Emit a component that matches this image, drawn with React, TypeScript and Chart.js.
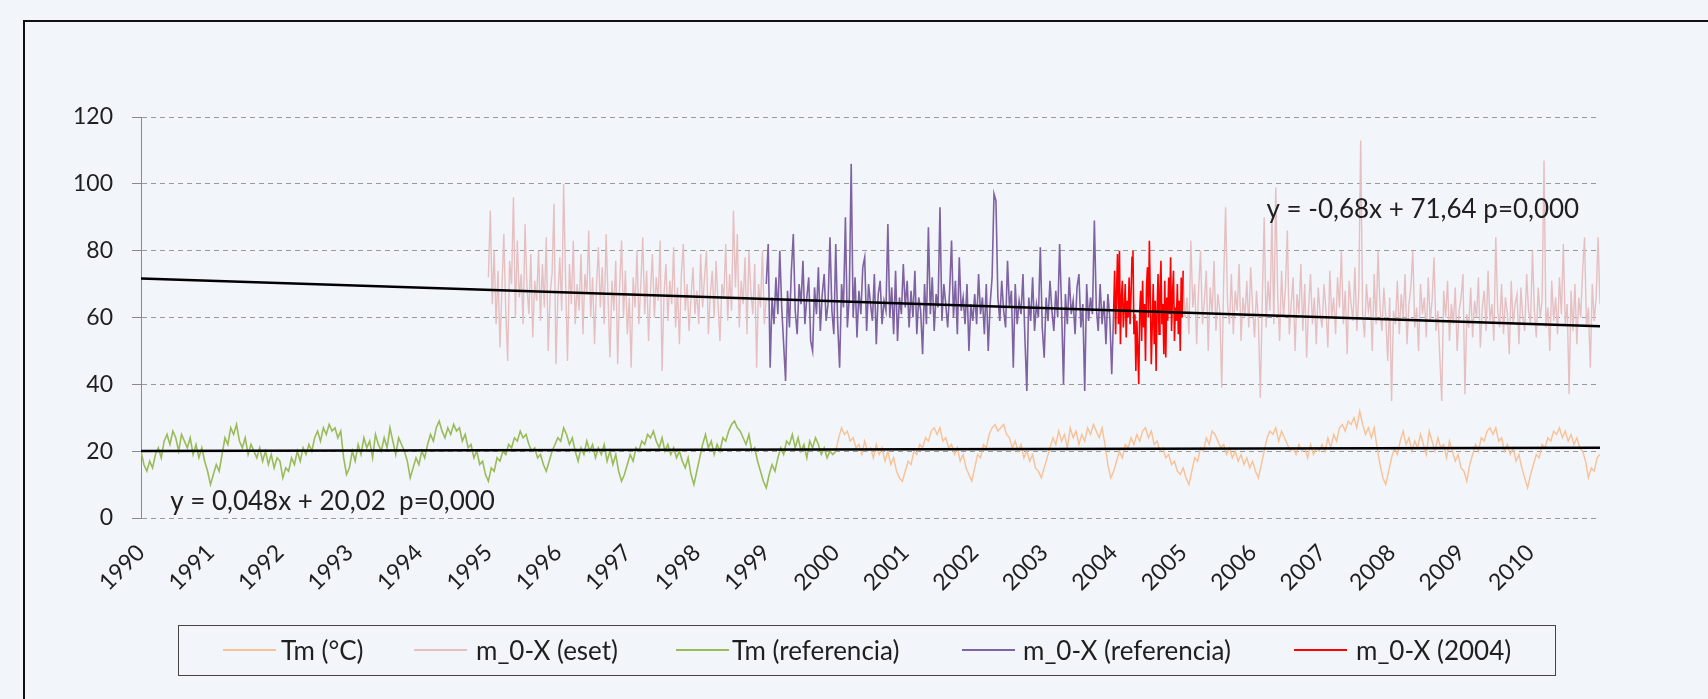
import React, { useEffect, useRef } from "react";
import { Chart, registerables } from "chart.js";

Chart.register(...registerables);

// ---- axis definitions ----
const X_MIN = 1990;
const X_MAX = 2011;
const Y_MIN = 0;
const Y_MAX = 120;
const Y_STEP = 20;
const yearLabels = [1990, 1991, 1992, 1993, 1994, 1995, 1996, 1997, 1998, 1999, 2000, 2001, 2002, 2003, 2004, 2005, 2006, 2007, 2008, 2009, 2010];

// ---- Tm (referencia): 1990.0 – 2000.0, 24 values per year ----
const tmRefStart = 1990;
const tmRefPerYear = 24;
const tmRef = [
  20, 16, 14, 17, 15, 19, 21, 18, 23, 25, 22, 26, 24, 20, 25, 23, 21, 24, 19, 22, 18, 21, 17, 14,
  10, 13, 16, 14, 19, 24, 22, 27, 25, 28, 23, 21, 24, 19, 22, 20, 18, 21, 17, 20, 16, 19, 15, 18,
  17, 12, 15, 14, 18, 16, 20, 17, 21, 19, 22, 20, 24, 26, 23, 27, 25, 28, 26, 27, 24, 26, 18, 13,
  15, 20, 17, 22, 19, 24, 21, 23, 18, 25, 22, 20, 24, 21, 27, 23, 19, 24, 22, 20, 17, 12, 15, 18,
  16, 20, 18, 22, 25, 23, 27, 29, 26, 24, 27, 25, 28, 26, 27, 23, 25, 21, 22, 18, 20, 16, 17, 13,
  11, 15, 14, 18, 17, 20, 19, 22, 21, 24, 23, 26, 24, 25, 22, 20, 21, 18, 19, 16, 14, 17, 20, 22,
  24, 23, 27, 25, 22, 24, 20, 17, 21, 19, 23, 20, 22, 18, 21, 19, 22, 17, 20, 16, 19, 14, 11, 13,
  16, 19, 17, 21, 20, 23, 22, 25, 24, 26, 23, 21, 24, 20, 22, 19, 21, 18, 20, 17, 15, 18, 13, 10,
  14, 18, 22, 25, 21, 23, 19, 22, 20, 24, 23, 26, 28, 29, 27, 26, 24, 22, 25, 20, 21, 17, 14, 11,
  9, 13, 16, 14, 18, 21, 19, 23, 22, 25, 21, 24, 20, 22, 18, 23, 21, 24, 22, 19, 21, 18, 20, 19,
  20,
];

// ---- Tm (°C): 2000.0 – 2011.0, 24 values per year ----
const tmStart = 2000;
const tmPerYear = 24;
const tm = [
  20, 24, 27, 25, 26, 23, 24, 21, 22, 19, 23, 20, 21, 18, 22, 19, 21, 17, 20, 16, 18, 14, 12, 11,
  14, 17, 16, 20, 19, 22, 21, 24, 23, 26, 27, 25, 27, 23, 24, 21, 22, 19, 21, 17, 19, 15, 13, 11,
  15, 19, 18, 22, 21, 25, 27, 28, 26, 27, 28, 25, 24, 21, 23, 20, 22, 18, 20, 17, 19, 15, 14, 12,
  15, 18, 21, 24, 22, 26, 23, 25, 21, 27, 24, 26, 22, 25, 23, 27, 25, 28, 26, 24, 27, 22, 16, 12,
  14, 17, 20, 18, 22, 21, 24, 22, 25, 23, 26, 27, 24, 26, 22, 23, 20, 21, 18, 19, 16, 17, 14, 13,
  15, 12, 10, 14, 18, 17, 21, 20, 24, 22, 26, 25, 23, 21, 22, 19, 21, 18, 20, 17, 19, 16, 18, 15,
  17, 14, 12, 16, 20, 24, 26, 25, 27, 23, 26, 24, 22, 20, 21, 19, 22, 20, 21, 18, 22, 19, 21, 20,
  22, 20, 24, 21, 25, 23, 27, 28, 26, 29, 28, 30, 27, 32, 28, 25, 27, 24, 27, 21, 16, 12, 10, 14,
  18, 21, 19, 23, 26, 22, 24, 20, 23, 21, 25, 22, 19, 26, 23, 20, 24, 21, 22, 18, 23, 20, 17, 19,
  15, 14, 11, 16, 19, 22, 20, 24, 23, 26, 27, 25, 27, 23, 24, 20, 22, 19, 21, 17, 19, 15, 12, 9,
  13, 16, 19, 18, 22, 21, 24, 23, 26, 25, 27, 24, 26, 23, 25, 22, 24, 21, 20, 17, 12, 15, 14, 18,
  19,
];

// ---- m_0-X (eset): 1995.0 – 1999.0 and 2005.0 – 2011.0, 36 values per year ----
const esetPerYear = 36;
const esetAStart = 1995;
const esetA = [
  72, 92, 64, 80, 58, 74, 51, 68, 85, 62, 47, 77, 70, 96, 60, 83, 66, 73, 58, 88, 69, 61, 79, 54, 71, 65, 80, 59, 76, 63, 84, 50, 67, 73, 94, 46,
  66, 78, 62, 100, 71, 47, 76, 64, 83, 58, 70, 62, 79, 55, 73, 67, 86, 60, 72, 52, 69, 81, 63, 75, 58, 85, 66, 48, 71, 62, 77, 46, 69, 83, 60, 74,
  55, 66, 45, 72, 63, 80, 58, 70, 84, 61, 74, 53, 68, 79, 60, 72, 65, 83, 44, 67, 76, 59, 71, 64, 81, 57, 69, 52, 73, 82, 62, 70, 56, 66, 75, 61,
  68, 58, 79, 63, 72, 80, 55, 67, 74, 60, 77, 64, 53, 70, 66, 82, 59, 73, 62, 92, 69, 85, 57, 71, 64, 78, 55, 80, 68, 61, 76, 45, 70, 63, 80, 58,
  66,
];
const esetBStart = 2005;
const esetB = [
  72, 60, 66, 55, 83, 63, 70, 52, 68, 80, 58, 65, 74, 50, 69, 61, 77, 56, 67, 62, 39, 71, 93, 64, 58, 73, 55, 68, 62, 76, 53, 66, 60, 71, 57, 75,
  63, 54, 68, 59, 36, 65, 90, 57, 71, 62, 90, 58, 99, 66, 53, 74, 60, 69, 86, 55, 64, 72, 50, 67, 61, 76, 56, 70, 48, 63, 73, 58, 66, 52, 69, 61,
  57, 70, 62, 51, 74, 60, 66, 55, 72, 63, 80, 58, 68, 49, 71, 64, 59, 75, 56, 67, 113, 61, 54, 70, 62, 66, 50, 73, 58, 80, 63, 56, 69, 60, 47, 66,
  35, 62, 58, 71, 55, 67, 60, 73, 52, 64, 69, 80, 57, 63, 50, 70, 61, 66, 54, 72, 59, 65, 78, 56, 62, 48, 35, 68, 60, 71, 53, 64, 58, 69, 50, 62,
  66, 73, 37, 61, 57, 69, 54, 65, 60, 72, 51, 63, 68, 56, 74, 59, 64, 53, 84, 62, 57, 70, 55, 66, 61, 49, 71, 58, 64, 67, 52, 69, 60, 56, 73, 62,
  58, 80, 62, 54, 69, 60, 65, 107, 57, 63, 50, 71, 59, 66, 55, 72, 61, 82, 58, 64, 37, 68, 56, 70, 52, 66, 60, 74, 84, 57, 63, 45, 70, 59, 66, 84,
  64,
];

// ---- m_0-X (referencia): 1999.0 – 2004.0, 36 values per year ----
const mRefStart = 1999;
const mRefPerYear = 36;
const mRef = [
  70, 82, 45, 66, 58, 72, 61, 80, 63, 52, 41, 68, 57, 74, 85, 62, 55, 70, 64, 77, 58, 66, 72, 53, 50, 69, 61, 75, 56, 67, 73, 59, 64, 84, 62, 55,
  82, 58, 45, 70, 63, 90, 57, 66, 106, 60, 72, 54, 68, 61, 75, 78, 56, 70, 64, 59, 73, 52, 67, 71, 58, 65, 62, 88, 60, 69, 55, 74, 53, 66, 61, 76,
  63, 71, 57, 68, 60, 74, 55, 66, 62, 49, 70, 58, 87, 61, 72, 56, 67, 63, 93, 59, 70, 64, 57, 68, 83, 60, 71, 55, 78, 62, 66, 58, 70, 50, 64, 59,
  67, 58, 73, 61, 66, 55, 70, 50, 64, 72, 97, 95, 66, 59, 71, 62, 57, 77, 63, 68, 45, 70, 58, 65, 61, 73, 54, 38, 66, 59, 72, 56, 64, 60, 81, 57,
  48, 66, 59, 71, 62, 56, 68, 60, 82, 63, 40, 67, 58, 72, 61, 65, 55, 69, 73, 57, 64, 38, 70, 59, 66, 61, 89, 63, 56, 70, 58, 65, 52, 67, 60, 43,
  62,
];

// ---- m_0-X (2004): 2004.0 – 2005.0, 72 values per year ----
const m2004Start = 2004;
const m2004PerYear = 72;
const m2004 = [
  62, 74, 55, 68, 79, 58, 80, 52, 66, 71, 57, 63, 70, 54, 65, 60, 72, 58,
  67, 78, 80, 55, 61, 44, 59, 50, 40, 62, 68, 53, 71, 57, 64, 47, 69, 75,
  60, 83, 66, 46, 58, 70, 52, 65, 44, 62, 73, 55, 68, 77, 58, 64, 49, 71,
  48, 66, 59, 72, 61, 78, 56, 67, 74, 53, 63, 59, 70, 55, 65, 50, 72, 60,
  74,
];

// ---- linear trend lines (end points) ----
const trendX = [1990, 2011];
const trendUpper = [71.64, 57.36];
const trendLower = [20.02, 21.03];
const eqUpper = "y = -0,68x + 71,64 p=0,000";
const eqLower = "y = 0,048x + 20,02  p=0,000";

// ---- legend ----
const legendItems = [
  { label: "Tm (°C)", color: "#F8C196" },
  { label: "m_0-X (eset)", color: "#E6BFC1" },
  { label: "Tm (referencia)", color: "#9BBB59" },
  { label: "m_0-X (referencia)", color: "#8064A2" },
  { label: "m_0-X (2004)", color: "#FF0000" },
];

const BG = "rgb(242,245,250)";
const FONT = "Lato, 'Open Sans', sans-serif";

function toPoints(start: number, perYear: number, vals: number[]) {
  return vals.map((v, i) => ({ x: start + i / perYear, y: v }));
}

const eqPlugin = {
  id: "eqLabels",
  afterDatasetsDraw(chart: any) {
    const { ctx, scales } = chart;
    ctx.save();
    ctx.fillStyle = "#1f1f1f";
    ctx.font = `26px ${FONT}`;
    ctx.textBaseline = "middle";
    ctx.textAlign = "left";
    ctx.fillText(eqUpper, scales.x.getPixelForValue(2006.2), scales.y.getPixelForValue(92.2));
    ctx.fillText(eqLower, scales.x.getPixelForValue(1990.42), scales.y.getPixelForValue(4.9));
    ctx.restore();
  },
};

function ChartCanvas() {
  const ref = useRef<HTMLCanvasElement | null>(null);
  useEffect(() => {
    if (!ref.current) return;
    const line = (label: string, data: any[], color: string, width: number) => ({
      label,
      data,
      borderColor: color,
      backgroundColor: color,
      borderWidth: width,
      pointRadius: 0,
      tension: 0,
      fill: false,
    });
    const chart = new Chart(ref.current, {
      type: "line",
      data: {
        datasets: [
          line("trend-upper", trendX.map((x, i) => ({ x, y: trendUpper[i] })), "#000000", 2.5),
          line("trend-lower", trendX.map((x, i) => ({ x, y: trendLower[i] })), "#000000", 2.5),
          line("m_0-X (2004)", toPoints(m2004Start, m2004PerYear, m2004), "#FF0000", 1.6),
          line("m_0-X (referencia)", toPoints(mRefStart, mRefPerYear, mRef), "#7E62A1", 1.6),
          line("Tm (referencia)", toPoints(tmRefStart, tmRefPerYear, tmRef), "#9BBB59", 1.6),
          line("m_0-X (eset)", toPoints(esetAStart, esetPerYear, esetA), "#E6BFC1", 1.4),
          line("m_0-X (eset) b", toPoints(esetBStart, esetPerYear, esetB), "#E6BFC1", 1.4),
          line("Tm (°C)", toPoints(tmStart, tmPerYear, tm), "#F8C196", 1.4),
        ],
      },
      options: {
        responsive: false,
        animation: false,
        events: [],
        layout: { padding: { left: 0, top: 117, right: 108, bottom: 0 } },
        plugins: { legend: { display: false }, tooltip: { enabled: false } },
        scales: {
          x: {
            type: "linear",
            min: X_MIN,
            max: X_MAX,
            afterFit: (s: any) => { s.height = 181; },
            afterBuildTicks: (s: any) => { s.ticks = yearLabels.map((v) => ({ value: v })); },
            ticks: {
              autoSkip: false,
              minRotation: 45,
              maxRotation: 45,
              padding: 21,
              color: "#1f1f1f",
              font: { family: FONT, size: 23 },
              callback: (v: any) => String(v),
            },
            grid: { display: false, drawTicks: false },
            border: { display: false },
          },
          y: {
            min: Y_MIN,
            max: Y_MAX,
            afterFit: (s: any) => { s.width = 141; },
            ticks: {
              stepSize: Y_STEP,
              padding: 19,
              color: "#1f1f1f",
              font: { family: FONT, size: 23 },
            },
            grid: {
              color: "#9a9a9a",
              lineWidth: 1,
              tickBorderDash: [],
              tickLength: 9,
              tickColor: "#8a8a8a",
            },
            border: { display: true, color: "#8a8a8a", width: 1, dash: [5, 4] },
          },
        },
      },
      plugins: [eqPlugin],
    });
    return () => chart.destroy();
  }, []);
  return (
    <canvas
      ref={ref}
      width={1708}
      height={699}
      style={{ position: "absolute", left: 0, top: 0, width: 1708, height: 699 }}
    />
  );
}

const legendPos = [
  { line: 223, text: 281 },
  { line: 414, text: 476 },
  { line: 676, text: 732 },
  { line: 962, text: 1023 },
  { line: 1294, text: 1356 },
];

export default function App() {
  return (
    <div
      style={{
        position: "fixed",
        left: 0,
        top: 0,
        width: 1708,
        height: 699,
        background: BG,
        overflow: "hidden",
        fontFamily: FONT,
      }}
    >
      <div
        style={{
          position: "absolute",
          left: 23,
          top: 20,
          width: 1720,
          height: 720,
          border: "2px solid #111",
          boxSizing: "border-box",
        }}
      />
      <ChartCanvas />
      <div
        style={{
          position: "absolute",
          left: 178,
          top: 625,
          width: 1378,
          height: 51,
          border: "1.5px solid #444",
          boxSizing: "border-box",
        }}
      />
      {legendItems.map((it, i) => (
        <React.Fragment key={it.label}>
          <div
            style={{
              position: "absolute",
              left: legendPos[i].line,
              top: 649,
              width: 53,
              height: 2,
              background: it.color,
            }}
          />
          <div
            style={{
              position: "absolute",
              left: legendPos[i].text,
              top: 634,
              height: 32,
              lineHeight: "32px",
              fontSize: 26,
              color: "#1f1f1f",
              whiteSpace: "nowrap",
            }}
          >
            {it.label}
          </div>
        </React.Fragment>
      ))}
    </div>
  );
}
